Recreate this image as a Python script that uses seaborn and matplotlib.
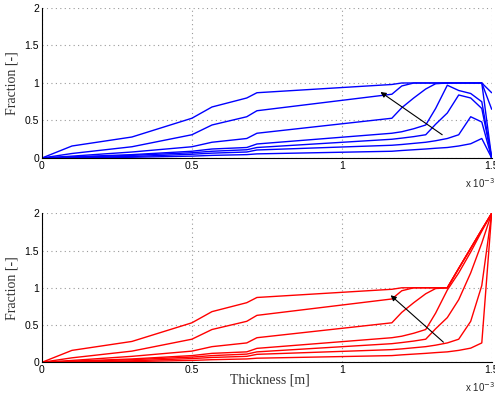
import numpy as np
import pandas as pd
import matplotlib
matplotlib.use("Agg")
import matplotlib.pyplot as plt
import seaborn as sns
from matplotlib.ticker import FuncFormatter, FixedLocator

# Grid nodes through the thickness [m]
thickness = [0.0, 0.10e-3, 0.30e-3, 0.50e-3, 0.567e-3, 0.683e-3, 0.717e-3,
             1.167e-3, 1.20e-3, 1.24e-3, 1.28e-3, 1.313e-3, 1.352e-3,
             1.39e-3, 1.43e-3, 1.467e-3, 1.50e-3]

# Upper panel: fraction profiles at successive times
upper_1 = [0, 0.16, 0.28, 0.53, 0.68, 0.80, 0.87, 0.98, 1.00, 1.00, 1.00, 1.00, 1.00, 1.00, 1.00, 1.00, 0.87]
upper_2 = [0, 0.06, 0.15, 0.31, 0.44, 0.55, 0.63, 0.85, 0.96, 1.00, 1.00, 1.00, 1.00, 1.00, 1.00, 1.00, 0.65]
upper_3 = [0, 0.025, 0.08, 0.15, 0.21, 0.26, 0.33, 0.53, 0.67, 0.80, 0.92, 0.99, 1.00, 1.00, 1.00, 1.00, 0.0]
upper_4 = [0, 0.015, 0.045, 0.09, 0.12, 0.14, 0.187, 0.33, 0.35, 0.39, 0.44, 0.66, 0.97, 0.90, 0.86, 0.75, 0.0]
upper_5 = [0, 0.010, 0.035, 0.07, 0.09, 0.11, 0.14, 0.25, 0.265, 0.285, 0.31, 0.45, 0.60, 0.84, 0.80, 0.66, 0.0]
upper_6 = [0, 0.006, 0.02, 0.05, 0.065, 0.08, 0.107, 0.17, 0.18, 0.195, 0.21, 0.23, 0.26, 0.31, 0.55, 0.48, 0.0]
upper_7 = [0, 0.003, 0.01, 0.025, 0.035, 0.045, 0.055, 0.09, 0.10, 0.11, 0.12, 0.13, 0.14, 0.16, 0.19, 0.26, 0.0]

# Lower panel: same times, with the fixed value at the outer surface
lower_1 = [0, 0.16, 0.28, 0.53, 0.68, 0.80, 0.87, 0.98, 1.00, 1.00, 1.00, 1.00, 1.00, 1.26, 1.53, 1.78, 2.0]
lower_2 = [0, 0.06, 0.15, 0.31, 0.44, 0.55, 0.63, 0.85, 0.96, 1.00, 1.00, 1.00, 1.00, 1.26, 1.53, 1.78, 2.0]
lower_3 = [0, 0.025, 0.08, 0.15, 0.21, 0.26, 0.33, 0.53, 0.67, 0.80, 0.92, 0.99, 1.00, 1.26, 1.53, 1.78, 2.0]
lower_4 = [0, 0.015, 0.045, 0.09, 0.12, 0.14, 0.187, 0.33, 0.35, 0.39, 0.44, 0.66, 0.97, 1.20, 1.48, 1.76, 2.0]
lower_5 = [0, 0.010, 0.035, 0.07, 0.09, 0.11, 0.14, 0.25, 0.265, 0.285, 0.31, 0.45, 0.60, 0.84, 1.20, 1.60, 2.0]
lower_6 = [0, 0.006, 0.02, 0.05, 0.065, 0.08, 0.107, 0.17, 0.18, 0.195, 0.21, 0.23, 0.26, 0.31, 0.55, 1.03, 2.0]
lower_7 = [0, 0.003, 0.01, 0.025, 0.035, 0.045, 0.055, 0.09, 0.10, 0.11, 0.12, 0.13, 0.14, 0.16, 0.19, 0.26, 2.0]

upper_curves = [upper_1, upper_2, upper_3, upper_4, upper_5, upper_6, upper_7]
lower_curves = [lower_1, lower_2, lower_3, lower_4, lower_5, lower_6, lower_7]

# Arrow (time direction): tail -> head, in data coordinates
upper_arrow = [(1.335e-3, 0.31), (1.129e-3, 0.88)]
lower_arrow = [(1.339e-3, 0.27), (1.163e-3, 0.90)]

x_ticks = [0, 0.5e-3, 1.0e-3, 1.5e-3]
y_ticks = [0, 0.5, 1, 1.5, 2]


def long_form(curves):
    rows = []
    for k, ys in enumerate(curves):
        for x, y in zip(thickness, ys):
            rows.append({"thickness": x, "fraction": y, "curve": k})
    return pd.DataFrame(rows)


sns.set_style("white")
plt.rcParams["font.family"] = ["Liberation Sans", "DejaVu Sans"]

fig = plt.figure(figsize=(4.95, 3.98), dpi=100)
ax_top = fig.add_axes([0.0848, 0.603, 0.9085, 0.377])
ax_bot = fig.add_axes([0.0848, 0.0897, 0.9085, 0.3744])

serif = ["Liberation Serif", "DejaVu Serif"]
fmt = FuncFormatter(lambda v, p: ("%g" % round(v * 1e3, 3)))

for ax, curves, color, arrow in [(ax_top, upper_curves, "#0000ff", upper_arrow),
                                 (ax_bot, lower_curves, "#ff0000", lower_arrow)]:
    df = long_form(curves)
    sns.lineplot(data=df, x="thickness", y="fraction", hue="curve",
                 palette=[color] * len(curves), estimator=None, sort=False,
                 legend=False, linewidth=1.0, ax=ax)
    ax.set_xlim(0, 1.5e-3)
    ax.set_ylim(0, 2)
    ax.xaxis.set_major_locator(FixedLocator(x_ticks))
    ax.yaxis.set_major_locator(FixedLocator(y_ticks))
    ax.xaxis.set_major_formatter(fmt)
    ax.set_yticklabels(["0", "0.5", "1", "1.5", "2"])
    ax.grid(True, linestyle=(0, (1, 3)), color="#9a9a9a", linewidth=0.8)
    for s in ["top", "right"]:
        ax.spines[s].set_visible(False)
    for s in ["left", "bottom"]:
        ax.spines[s].set_color("black")
        ax.spines[s].set_linewidth(0.8)
    ax.tick_params(direction="in", length=3, width=0.6, labelsize=7.5,
                   colors="black", pad=2)
    ax.set_xlabel("")
    ax.set_ylabel("Fraction [-]", fontsize=10, family=serif, color="#333333")
    ax.yaxis.set_label_coords(-0.053, 0.5)
    ax.text(1.007, -0.165, r"x 10$^{-3}$", transform=ax.transAxes,
            ha="right", va="center", fontsize=7)
    (tx, ty), (hx, hy) = arrow
    ax.annotate("", xy=(hx, hy), xytext=(tx, ty),
                arrowprops=dict(arrowstyle="-|>", color="black", lw=0.8,
                                mutation_scale=8, shrinkA=0, shrinkB=0))
    ax.set_clip_on(True)

ax_bot.set_xlabel("Thickness [m]", fontsize=10, family=serif, color="#333333")
ax_bot.xaxis.set_label_coords(0.507, -0.075)

fig.savefig("out.png", dpi=100, facecolor="white")
